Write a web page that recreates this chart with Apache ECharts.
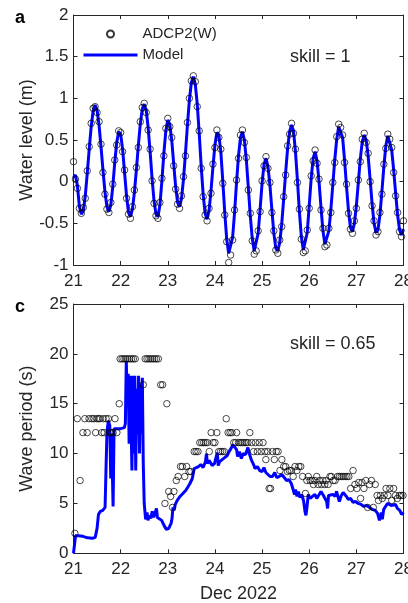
<!DOCTYPE html>
<html>
<head>
<meta charset="utf-8">
<script src="https://cdn.jsdelivr.net/npm/echarts@6/dist/echarts.min.js"></script>
<style>
html, body { margin: 0; padding: 0; background: #fff; }
#chart { width: 408px; height: 603px; }
</style>
</head>
<body>
<div id="chart"></div>
<script>
// ---- Panel a: water level (m), hourly samples from 21 Dec 00:00 ----
const levelStartDay = 21;
const levelStepHours = 1;
const levelModel = [
  0.05, 0.08, -0.05, -0.30, -0.39, -0.35, -0.17, 0.10, 0.39, 0.66, 0.85,
  0.92, 0.86, 0.68, 0.42, 0.14, -0.12, -0.30, -0.36, -0.28, -0.06,
  0.23, 0.47, 0.60, 0.57, 0.39, 0.11, -0.17, -0.37, -0.42, -0.33,
  -0.13, 0.14, 0.43, 0.69, 0.87, 0.93, 0.86, 0.65, 0.36, 0.04,
  -0.23, -0.39, -0.42, -0.28, 0.01, 0.34, 0.61, 0.74, 0.69, 0.50,
  0.22, -0.06, -0.25, -0.30, -0.20, 0.03, 0.34, 0.68, 0.98, 1.19,
  1.26, 1.17, 0.93, 0.58, 0.19, -0.15, -0.38, -0.45, -0.35, -0.11,
  0.18, 0.44, 0.59, 0.56, 0.36, 0.01, -0.37, -0.69, -0.86, -0.85,
  -0.67, -0.37, -0.01, 0.31, 0.53, 0.60, 0.50, 0.26, -0.07, -0.41,
  -0.68, -0.83, -0.81, -0.62, -0.33, -0.02, 0.21, 0.28, 0.18, -0.04,
  -0.34, -0.62, -0.80, -0.83, -0.73, -0.51, -0.21, 0.11, 0.40, 0.60,
  0.68, 0.61, 0.36, 0.02, -0.36, -0.66, -0.82, -0.81, -0.61, -0.29,
  0.04, 0.28, 0.36, 0.25, 0.00, -0.31, -0.59, -0.75, -0.74, -0.59,
  -0.34, -0.04, 0.26, 0.51, 0.66, 0.67, 0.53, 0.26, -0.06, -0.35,
  -0.55, -0.60, -0.50, -0.29, -0.01, 0.27, 0.48, 0.56, 0.50, 0.31,
  0.03, -0.26, -0.50, -0.61, -0.58, -0.40, -0.12, 0.18, 0.43, 0.55,
  0.53, 0.38, 0.14, -0.14, -0.40, -0.58, -0.64, -0.57
];
const levelObs = [
  0.24, 0.03, -0.08, -0.32, -0.38, -0.31, -0.20, 0.13, 0.42, 0.70, 0.88,
  0.90, 0.83, 0.72, 0.45, 0.11, -0.15, -0.33, -0.37, -0.25, -0.03,
  0.26, 0.44, 0.61, 0.59, 0.36, 0.14, -0.20, -0.39, -0.44, -0.30,
  -0.10, 0.17, 0.41, 0.72, 0.89, 0.94, 0.83, 0.62, 0.39, 0.01,
  -0.26, -0.41, -0.44, -0.25, 0.04, 0.31, 0.64, 0.76, 0.66, 0.53,
  0.19, -0.09, -0.27, -0.32, -0.17, 0.06, 0.31, 0.71, 1.00, 1.21,
  1.27, 1.20, 0.90, 0.61, 0.16, -0.18, -0.40, -0.47, -0.32, -0.14,
  0.21, 0.41, 0.62, 0.53, 0.39, -0.02, -0.40, -0.72, -0.97, -0.88,
  -0.70, -0.34, 0.02, 0.28, 0.56, 0.62, 0.47, 0.29, -0.10, -0.38,
  -0.71, -0.87, -0.83, -0.59, -0.36, 0.01, 0.19, 0.30, 0.16, -0.01,
  -0.37, -0.59, -0.82, -0.86, -0.70, -0.54, -0.18, 0.08, 0.43, 0.57,
  0.70, 0.58, 0.39, -0.01, -0.33, -0.69, -0.85, -0.83, -0.58, -0.32,
  0.07, 0.25, 0.38, 0.22, 0.03, -0.34, -0.56, -0.78, -0.76, -0.56,
  -0.37, -0.01, 0.23, 0.54, 0.69, 0.65, 0.56, 0.23, -0.03, -0.38,
  -0.57, -0.62, -0.47, -0.32, 0.02, 0.24, 0.51, 0.58, 0.47, 0.34,
  0.00, -0.29, -0.47, -0.64, -0.60, -0.37, -0.15, 0.21, 0.40, 0.57,
  0.51, 0.41, 0.11, -0.17, -0.37, -0.60, -0.66, -0.47
];

// ---- Panel c: wave period (s), [day of December, period] ----
const periodModel = [
  [21.000, 0.0], [21.045, 1.8], [21.10, 1.75], [21.20, 1.7], [21.30, 1.55], [21.40, 1.5], [21.46, 1.6], [21.50, 2.5], [21.53, 3.9], [21.57, 4.2],
  [21.62, 4.3], [21.67, 4.6], [21.69, 8.5], [21.71, 12.2], [21.74, 13.3], [21.77, 12.8], [21.79, 7.5], [21.80, 12.0], [21.82, 9.0], [21.84, 4.7],
  [21.86, 12.5], [21.90, 12.5], [22.00, 12.5], [22.08, 12.6], [22.10, 13.0], [22.12, 19.3], [22.14, 15.0], [22.16, 18.0], [22.18, 11.0], [22.20, 17.8],
  [22.22, 13.0], [22.24, 8.3], [22.26, 17.8], [22.28, 10.0], [22.30, 17.8], [22.32, 8.3], [22.34, 16.5], [22.36, 12.0], [22.38, 17.8], [22.40, 10.0],
  [22.42, 17.0], [22.44, 12.0], [22.46, 17.6], [22.48, 9.0], [22.50, 5.0], [22.53, 3.4], [22.56, 4.1], [22.58, 3.3], [22.61, 3.8], [22.64, 3.5],
  [22.67, 4.2], [22.70, 3.6], [22.73, 3.4], [22.76, 4.5], [22.78, 3.6], [22.82, 3.5], [22.87, 3.3], [22.92, 2.8], [22.97, 2.4], [23.02, 2.5],
  [23.07, 3.0], [23.09, 3.5], [23.11, 4.6], [23.13, 4.3], [23.16, 4.9], [23.20, 5.3], [23.26, 5.7], [23.32, 6.0], [23.38, 6.3], [23.42, 6.6],
  [23.47, 7.0], [23.52, 7.5], [23.56, 8.5], [23.60, 8.7], [23.65, 8.7], [23.70, 8.9], [23.75, 8.6], [23.80, 9.2], [23.82, 10.0], [23.84, 9.0],
  [23.88, 9.3], [23.94, 8.8], [23.99, 9.0], [24.02, 9.1], [24.05, 10.1], [24.07, 8.8], [24.10, 9.2], [24.14, 9.0], [24.18, 9.5], [24.22, 9.4],
  [24.26, 9.8], [24.30, 10.2], [24.34, 10.5], [24.38, 10.9], [24.42, 10.7], [24.46, 10.4], [24.48, 9.7], [24.52, 10.2], [24.56, 9.5], [24.60, 10.0],
  [24.65, 9.9], [24.70, 10.6], [24.73, 10.0], [24.77, 9.4], [24.82, 8.9], [24.85, 8.5], [24.90, 8.7], [24.95, 8.3], [25.00, 8.2], [25.04, 8.6],
  [25.08, 8.1], [25.12, 8.0], [25.17, 7.7], [25.22, 7.7], [25.27, 8.1], [25.31, 7.6], [25.36, 7.7], [25.42, 7.9], [25.47, 7.6], [25.52, 7.3],
  [25.57, 7.4], [25.62, 7.0], [25.66, 6.9], [25.69, 5.9], [25.71, 6.4], [25.74, 5.7], [25.77, 6.2], [25.80, 5.6], [25.84, 5.9], [25.88, 5.3],
  [25.91, 4.2], [25.93, 3.8], [25.95, 4.5], [25.98, 5.9], [26.02, 5.5], [26.07, 5.7], [26.12, 5.9], [26.16, 5.5], [26.20, 5.6], [26.25, 6.2],
  [26.29, 5.9], [26.33, 5.8], [26.37, 5.2], [26.39, 4.5], [26.41, 5.8], [26.45, 6.0], [26.50, 5.9], [26.55, 5.7], [26.58, 6.2], [26.62, 5.5],
  [26.64, 5.2], [26.68, 5.8], [26.72, 6.1], [26.76, 6.3], [26.79, 5.7], [26.83, 5.4], [26.88, 5.5], [26.93, 5.1], [26.98, 5.2], [27.04, 5.0],
  [27.10, 4.9], [27.16, 4.7], [27.22, 4.8], [27.28, 4.6], [27.34, 4.4], [27.40, 4.3], [27.45, 4.0], [27.49, 3.3], [27.51, 3.6], [27.53, 4.1],
  [27.55, 3.4], [27.58, 4.4], [27.62, 4.2], [27.66, 5.0], [27.70, 5.1], [27.74, 4.8], [27.78, 5.0], [27.83, 4.9], [27.87, 4.5], [27.92, 4.3],
  [27.96, 3.9], [28.00, 4.1]
];
const periodObs = [
  [21.03, 2.0], [21.08, 13.5], [21.14, 7.3], [21.20, 12.1], [21.24, 13.5], [21.29, 12.1], [21.33, 13.5], [21.39, 13.5], [21.43, 13.5], [21.47, 12.1],
  [21.49, 13.5], [21.53, 13.5], [21.56, 13.5], [21.60, 12.1], [21.63, 13.5], [21.65, 12.1], [21.69, 13.5], [21.74, 13.5], [21.77, 12.1], [21.80, 12.1],
  [21.84, 12.1], [21.88, 13.5], [21.92, 12.1], [21.97, 15.0], [21.99, 19.5], [22.03, 19.5], [22.07, 19.5], [22.11, 19.5], [22.15, 19.5], [22.19, 19.5],
  [22.23, 19.5], [22.27, 19.5], [22.31, 19.5], [22.48, 16.9], [22.52, 19.5], [22.56, 19.5], [22.60, 19.5], [22.64, 19.5], [22.68, 19.5], [22.72, 19.5],
  [22.76, 19.5], [22.80, 19.5], [22.85, 16.9], [22.89, 16.9], [22.94, 5.0], [22.98, 15.0], [23.02, 6.2], [23.06, 5.7], [23.10, 4.6], [23.13, 6.2],
  [23.18, 7.3], [23.22, 7.7], [23.27, 8.7], [23.31, 8.7], [23.36, 7.7], [23.40, 8.7], [23.45, 8.2], [23.49, 8.2], [23.56, 10.2], [23.60, 10.2],
  [23.64, 10.2], [23.68, 11.1], [23.72, 11.1], [23.76, 11.1], [23.80, 11.1], [23.84, 11.1], [23.88, 10.2], [23.92, 12.1], [23.96, 11.1], [24.00, 11.1],
  [24.04, 12.1], [24.08, 10.2], [24.12, 10.2], [24.16, 10.2], [24.20, 10.2], [24.24, 13.5], [24.28, 12.1], [24.32, 12.1], [24.36, 12.1], [24.40, 11.1],
  [24.44, 11.1], [24.46, 12.1], [24.50, 11.1], [24.54, 11.1], [24.58, 11.1], [24.62, 11.1], [24.66, 11.1], [24.70, 11.1], [24.74, 12.1], [24.78, 11.1],
  [24.82, 10.2], [24.86, 11.1], [24.90, 10.2], [24.94, 11.1], [24.98, 10.2], [25.02, 11.1], [25.06, 10.2], [25.08, 9.4], [25.12, 10.2], [25.15, 6.5],
  [25.18, 6.5], [25.22, 10.2], [25.26, 9.4], [25.30, 10.2], [25.34, 10.2], [25.38, 8.3], [25.42, 9.4], [25.46, 8.7], [25.50, 8.7], [25.54, 8.2],
  [25.58, 8.3], [25.62, 8.3], [25.66, 7.7], [25.70, 8.7], [25.74, 8.3], [25.78, 8.7], [25.82, 8.7], [25.86, 7.7], [25.92, 6.0], [25.95, 7.3],
  [25.98, 7.7], [26.02, 7.3], [26.06, 7.3], [26.09, 6.9], [26.12, 7.3], [26.16, 7.7], [26.19, 6.9], [26.22, 7.3], [26.26, 6.9], [26.29, 7.3],
  [26.33, 6.9], [26.36, 7.3], [26.40, 6.9], [26.44, 7.7], [26.47, 7.7], [26.51, 7.3], [26.55, 7.3], [26.60, 7.7], [26.64, 7.7], [26.68, 7.7],
  [26.72, 7.7], [26.76, 7.7], [26.80, 7.7], [26.84, 7.7], [26.88, 6.5], [26.93, 8.3], [26.97, 6.9], [27.01, 6.5], [27.05, 7.1], [27.09, 5.5],
  [27.12, 7.1], [27.16, 6.5], [27.20, 7.3], [27.24, 4.6], [27.28, 6.9], [27.32, 7.3], [27.36, 4.6], [27.40, 6.9], [27.44, 5.8], [27.47, 5.3],
  [27.51, 5.8], [27.55, 5.5], [27.59, 5.8], [27.63, 6.5], [27.67, 5.8], [27.71, 6.5], [27.75, 5.3], [27.79, 6.5], [27.83, 5.8], [27.87, 5.5],
  [27.91, 5.8], [27.95, 5.8], [27.99, 5.8]
];

// ---- Axis ticks ----
const dayTicks = [21, 22, 23, 24, 25, 26, 27, 28];
const levelTicks = [-1, -0.5, 0, 0.5, 1, 1.5, 2];
const periodTicks = [0, 5, 10, 15, 20, 25];

const seriesNames = ['ADCP2(W)', 'Model'];
const panelLetters = ['a', 'c'];
const skillLabels = ['skill = 1', 'skill = 0.65'];

const FONT = '"Liberation Sans", Arial, Helvetica, sans-serif';
const INK = '#262626';
const BLUE = '#0000ff';

const toHourly = arr => arr.map((v, i) => [levelStartDay + i * levelStepHours / 24, v]);

function rangeOf(ticks) {
  return { min: ticks[0], max: ticks[ticks.length - 1], interval: ticks[1] - ticks[0] };
}

function xAxisFor(gridIndex, position, showLabels, name) {
  const r = rangeOf(dayTicks);
  return {
    type: 'value', gridIndex, position, min: r.min, max: r.max, interval: r.interval,
    name: name || '', nameLocation: 'middle', nameGap: 32, nameMoveOverlap: false,
    nameTextStyle: { fontFamily: FONT, fontSize: 18, color: INK },
    axisLine: { show: true, onZero: false, lineStyle: { color: INK, width: 1 } },
    axisTick: { show: true, inside: true, length: 4, lineStyle: { color: INK, width: 1 } },
    axisLabel: { show: showLabels, fontFamily: FONT, fontSize: 17, color: INK, margin: 8, hideOverlap: false },
    splitLine: { show: false }
  };
}

function yAxisFor(gridIndex, position, ticks, showLabels, name) {
  const r = rangeOf(ticks);
  return {
    type: 'value', gridIndex, position, min: r.min, max: r.max, interval: r.interval,
    name: name || '', nameLocation: 'middle', nameGap: 37, nameMoveOverlap: false,
    nameTextStyle: { fontFamily: FONT, fontSize: 18, color: INK },
    axisLine: { show: true, onZero: false, lineStyle: { color: INK, width: 1 } },
    axisTick: { show: true, inside: true, length: 4, lineStyle: { color: INK, width: 1 } },
    axisLabel: { show: showLabels, fontFamily: FONT, fontSize: 17, color: INK, margin: 5 },
    splitLine: { show: false }
  };
}

const obsStyle = { color: 'rgba(0,0,0,0)', borderColor: '#000', borderWidth: 0.9 };

const chart = echarts.init(document.getElementById('chart'), null, { renderer: 'canvas' });
chart.setOption({
  animation: false,
  backgroundColor: '#fff',
  grid: [
    { left: 73.5, top: 15, width: 330, height: 250, containLabel: false, outerBoundsMode: 'none' },
    { left: 73.5, top: 304, width: 330, height: 249.3, containLabel: false, outerBoundsMode: 'none' }
  ],
  xAxis: [
    xAxisFor(0, 'bottom', true),
    xAxisFor(0, 'top', false),
    xAxisFor(1, 'bottom', true, 'Dec 2022'),
    xAxisFor(1, 'top', false)
  ],
  yAxis: [
    yAxisFor(0, 'left', levelTicks, true, 'Water level (m)'),
    yAxisFor(0, 'right', levelTicks, false),
    yAxisFor(1, 'left', periodTicks, true, 'Wave period (s)'),
    yAxisFor(1, 'right', periodTicks, false)
  ],
  legend: {
    data: [
      { name: seriesNames[0] },
      { name: seriesNames[1], itemStyle: { opacity: 0 }, lineStyle: { width: 3, color: BLUE } }
    ],
    orient: 'vertical',
    left: 82, top: 26.5,
    padding: 0,
    itemWidth: 54, itemHeight: 7, itemGap: 6,
    selectedMode: false,
    textStyle: { fontFamily: FONT, fontSize: 15, color: INK }
  },
  series: [
    {
      name: seriesNames[1], type: 'line', xAxisIndex: 0, yAxisIndex: 0,
      data: toHourly(levelModel), symbol: 'none', z: 2,
      lineStyle: { color: BLUE, width: 3 }, itemStyle: { color: BLUE }
    },
    {
      name: seriesNames[0], type: 'scatter', xAxisIndex: 0, yAxisIndex: 0,
      data: toHourly(levelObs), symbol: 'circle', symbolSize: 6.5, z: 3,
      itemStyle: obsStyle
    },
    {
      name: seriesNames[1], type: 'line', xAxisIndex: 2, yAxisIndex: 2,
      data: periodModel, symbol: 'none', z: 2,
      lineStyle: { color: BLUE, width: 3 }, itemStyle: { color: BLUE }
    },
    {
      name: seriesNames[0], type: 'scatter', xAxisIndex: 2, yAxisIndex: 2,
      data: periodObs, symbol: 'circle', symbolSize: 6.5, z: 3,
      itemStyle: obsStyle
    }
  ],
  graphic: [
    { type: 'text', x: 15, y: 18, style: { text: panelLetters[0], font: 'bold 18px ' + FONT, fill: '#000', textVerticalAlign: 'middle' } },
    { type: 'text', x: 15, y: 307, style: { text: panelLetters[1], font: 'bold 18px ' + FONT, fill: '#000', textVerticalAlign: 'middle' } },
    { type: 'text', x: 290, y: 57, style: { text: skillLabels[0], font: '18px ' + FONT, fill: INK, textVerticalAlign: 'middle' } },
    { type: 'text', x: 290, y: 344, style: { text: skillLabels[1], font: '18px ' + FONT, fill: INK, textVerticalAlign: 'middle' } }
  ]
});
</script>
</body>
</html>
